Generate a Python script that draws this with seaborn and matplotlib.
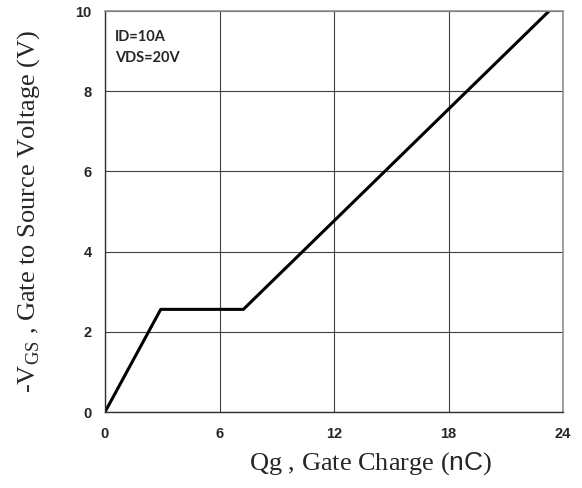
import matplotlib
matplotlib.use("Agg")
import matplotlib.pyplot as plt
import seaborn as sns
import pandas as pd

# gate charge curve
qg_nc = [0, 2.92, 7.25, 23.27]
vgs_v = [0, 2.56, 2.56, 10]
x_ticks = [0, 6, 12, 18, 24]
y_ticks = [0, 2, 4, 6, 8, 10]
conditions = ["ID=10A", "VDS=20V"]

df = pd.DataFrame({"Qg": qg_nc, "VGS": vgs_v})

sns.set_style("white")
plt.rcParams["mathtext.fontset"] = "custom"
plt.rcParams["mathtext.rm"] = "Liberation Serif"
plt.rcParams["mathtext.sf"] = "Liberation Sans"

fig = plt.figure(figsize=(5.82, 4.88), dpi=100)
ax = fig.add_axes([0.1804, 0.1557, 0.787, 0.8217])

sns.lineplot(data=df, x="Qg", y="VGS", color="black", linewidth=2.2, ax=ax)

ax.set_xlim(0, 24)
ax.set_ylim(0, 10)
ax.set_xticks(x_ticks)
ax.set_yticks(y_ticks)
ax.grid(True, color="#404040", linewidth=0.8)
ax.set_axisbelow(True)

for lab in ax.get_xticklabels() + ax.get_yticklabels():
    lab.set_fontfamily("Liberation Sans")
    lab.set_fontweight("bold")
    lab.set_fontsize(10.5)
ax.tick_params(axis="x", length=0, pad=10.5)
ax.tick_params(axis="y", length=0, pad=9.5)

for side in ["left", "bottom"]:
    ax.spines[side].set_color("#303030")
    ax.spines[side].set_linewidth(1.0)
for side in ["right", "top"]:
    ax.spines[side].set_color("#909090")
    ax.spines[side].set_linewidth(1.2)

ax.set_xlabel(r"Qg , Gate Charge ($\mathsf{nC}$)", fontfamily="Liberation Serif",
              fontsize=19, labelpad=6)
ax.xaxis.set_label_coords(0.579, -0.095)
ax.set_ylabel(r"-V$_{\mathrm{GS}}$ , Gate to Source Voltage (V)",
              fontfamily="Liberation Serif", fontsize=19, labelpad=24)

ax.text(0.022, 0.935, conditions[0], transform=ax.transAxes,
        fontfamily="Lato", fontweight="bold", fontsize=10.5, va="center")
ax.text(0.022, 0.883, conditions[1], transform=ax.transAxes,
        fontfamily="Lato", fontweight="bold", fontsize=10.5, va="center")

fig.savefig("out.png", dpi=100)
